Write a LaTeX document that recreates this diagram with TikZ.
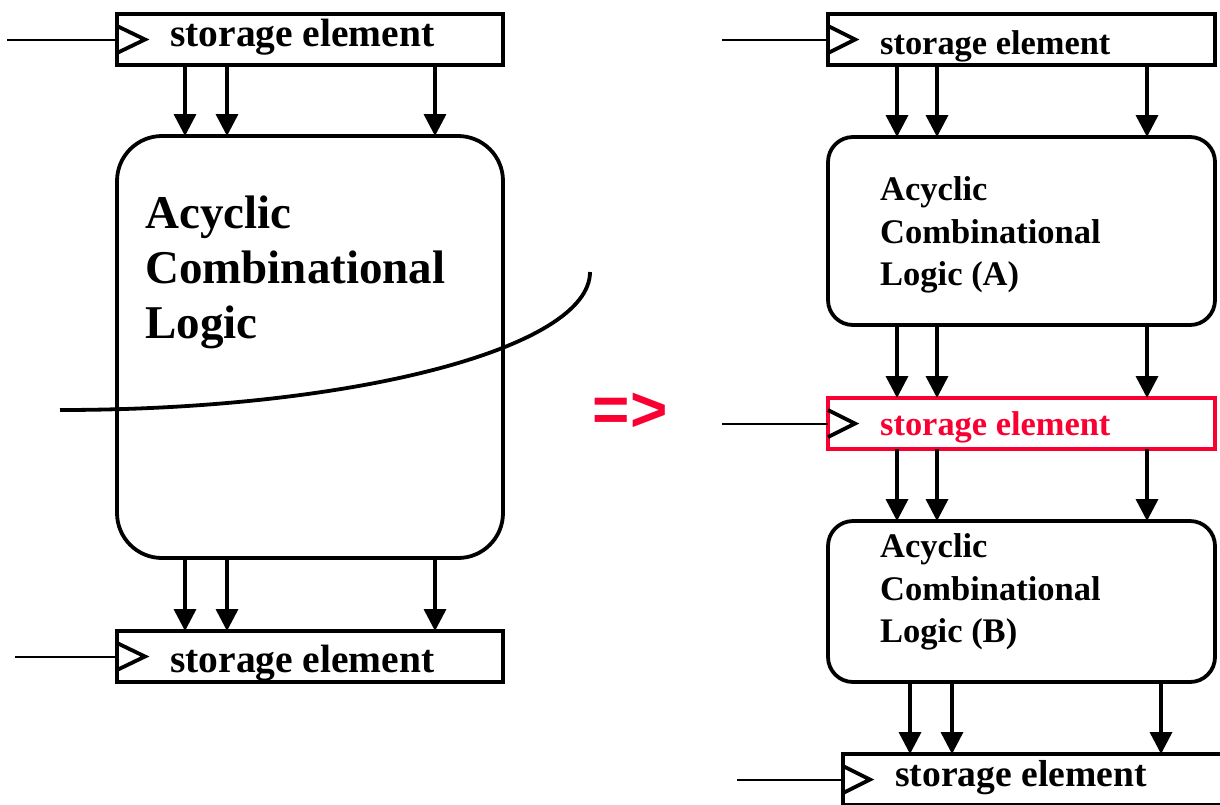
\documentclass[tikz,border=0pt]{standalone}
\usepackage{fontspec}
\setmainfont{Liberation Serif}
\newfontfamily\arialf{Liberation Sans}
\usetikzlibrary{arrows.meta}
\definecolor{pptred}{RGB}{250,0,50}
\begin{document}
\begin{tikzpicture}[x=1pt,y=-1pt,
  box/.style={draw,line width=3.8pt,minimum width=386pt,inner sep=0pt,outer sep=0pt},
  sbox/.style={box,minimum height=51pt},
  lbox/.style={box,rounded corners=#1},
  arr/.style={line width=3.5pt,-{Triangle[width=22pt,length=22pt]}},
  inp/.style={line width=2pt},
  clk/.style={line width=3.8pt},
  txt/.style={anchor=base west,inner sep=0pt,font=\bfseries\fontsize{#1}{#1}\selectfont},
]
\useasboundingbox (0,0) rectangle (1220,804);

% ---------- left column ----------
\node[sbox] (s1) at (310,39.5) {};
\node[txt=39.5] (s1t) at (170,46) {storage element};
\node[lbox=45pt,minimum height=422pt] (L) at (310,347) {};
\node[txt=47] (L1) at (145,228) {Acyclic};
\node[txt=47] (L2) at (145,283) {Combinational};
\node[txt=47] (L3) at (145,338) {Logic};
\node[sbox] (s2) at (310,656.5) {};
\node[txt=39.5] (s2t) at (170,672) {storage element};

\foreach \x in {185,227,435}{
  \draw[arr] (\x,0 |- s1.south) -- (\x,0 |- L.north);
  \draw[arr] (\x,0 |- L.south) -- (\x,0 |- s2.north);
}

\coordinate (i1) at (7,39.5);
\draw[inp] (i1) -- (s1.west);
\draw[clk] ([yshift=13.5pt]s1.west) -- ++(28,13.5) -- ++(-28,13.5);
\coordinate (i2) at (15,656.5);
\draw[inp] (i2) -- (s2.west);
\draw[clk] ([yshift=13.5pt]s2.west) -- ++(28,13.5) -- ++(-28,13.5);

% cut curve
\coordinate (c0) at (60,410);
\coordinate (c1) at (590,272);
\draw[line width=3.8pt] (c0) .. controls (353,410) and (590,348) .. (c1);

% implication
\node[anchor=base,inner sep=0pt,text=pptred,font=\arialf\bfseries\fontsize{64}{64}\selectfont] (imp) at (630,431) {=>};

% ---------- right column ----------
\node[sbox,minimum width=387pt] (r1) at (1021.5,39.5) {};
\node[txt=34.4] (r1t) at (880,54) {storage element};
\node[lbox=25pt,minimum width=387pt,minimum height=188pt] (A) at (1021.5,231) {};
\node[txt=34.5] (A1) at (880,200) {Acyclic};
\node[txt=34.5] (A2) at (880,243) {Combinational};
\node[txt=34.5] (A3) at (880,285) {Logic (A)};
\node[sbox,minimum width=387pt,draw=pptred] (r2) at (1021.5,423.5) {};
\node[txt=34.4,text=pptred] (r2t) at (880,435) {storage element};
\node[lbox=25pt,minimum width=387pt,minimum height=161pt] (B) at (1021.5,601.5) {};
\node[txt=34.5] (B1) at (880,557) {Acyclic};
\node[txt=34.5] (B2) at (880,600) {Combinational};
\node[txt=34.5] (B3) at (880,642) {Logic (B)};
\node[sbox,minimum width=387pt,anchor=north west] (r3) at (843,754) {};
\node[txt=37.6] (r3t) at (895,786) {storage element};

\foreach \x in {897,937,1147}{
  \draw[arr] (\x,0 |- r1.south) -- (\x,0 |- A.north);
  \draw[arr] (\x,0 |- A.south) -- (\x,0 |- r2.north);
  \draw[arr] (\x,0 |- r2.south) -- (\x,0 |- B.north);
}
\foreach \x in {910,952,1161}{
  \draw[arr] (\x,0 |- B.south) -- (\x,0 |- r3.north);
}

\coordinate (i3) at (722,39.5);
\draw[inp] (i3) -- (r1.west);
\draw[clk] ([yshift=13.5pt]r1.west) -- ++(27,13.5) -- ++(-27,13.5);
\coordinate (i4) at (722,423.5);
\draw[inp] (i4) -- (r2.west);
\draw[clk] ([yshift=13.5pt]r2.west) -- ++(27,13.5) -- ++(-27,13.5);
\coordinate (i5) at (737,779.5);
\draw[inp] (i5) -- (r3.west);
\draw[clk] ([yshift=13.5pt]r3.west) -- ++(27,13.5) -- ++(-27,13.5);
\end{tikzpicture}
\end{document}
